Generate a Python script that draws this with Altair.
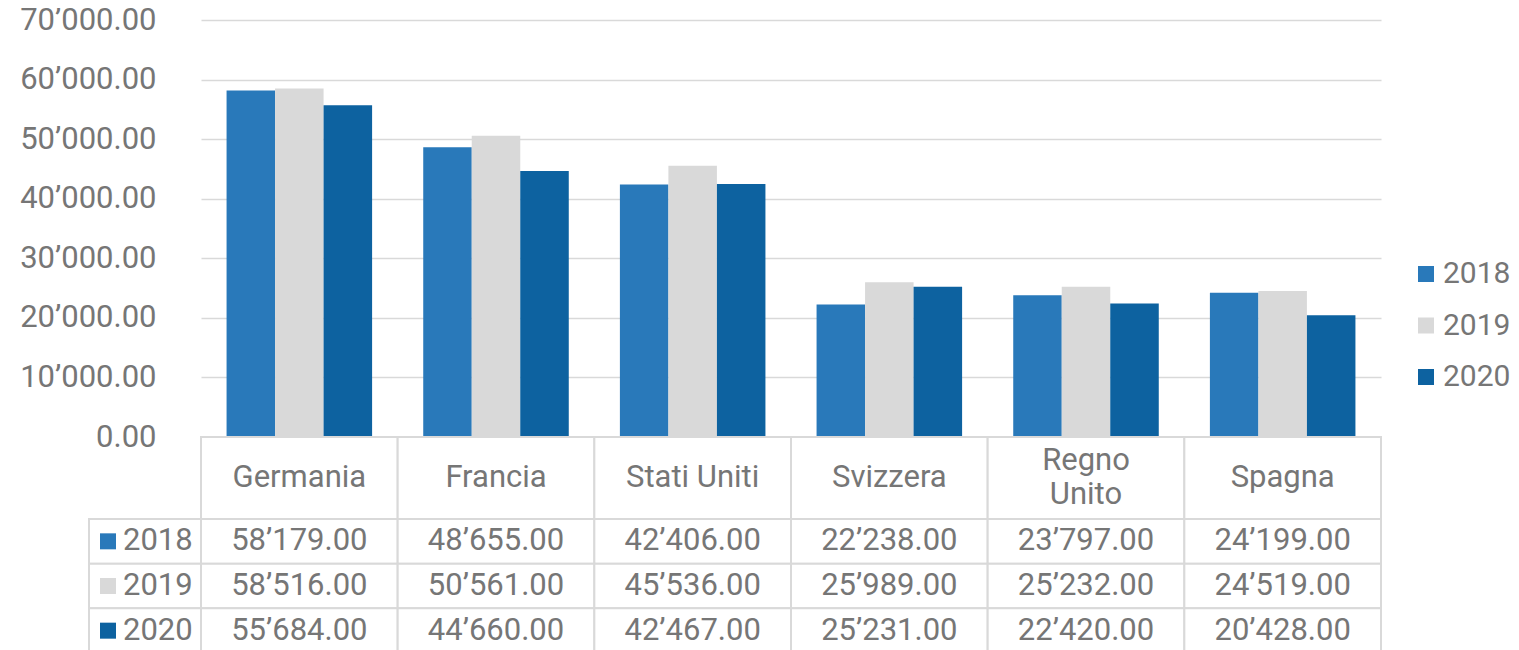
import altair as alt
import pandas as pd

categories = ["Germania", "Francia", "Stati Uniti", "Svizzera", "Regno Unito", "Spagna"]
header_labels = ["Germania", "Francia", "Stati Uniti", "Svizzera", "Regno\nUnito", "Spagna"]
years = ["2018", "2019", "2020"]
v2018 = [58179, 48655, 42406, 22238, 23797, 24199]
v2019 = [58516, 50561, 45536, 25989, 25232, 24519]
v2020 = [55684, 44660, 42467, 25231, 22420, 20428]
y_ticks = [0, 10000, 20000, 30000, 40000, 50000, 60000, 70000]
colors = ["#2979BA", "#D9D9D9", "#0D62A0"]

rows = []
for yr_, vals in zip(years, [v2018, v2019, v2020]):
    for c, v in zip(categories, vals):
        rows.append({"paese": c, "anno": yr_, "valore": v})
df = pd.DataFrame(rows)
hdr = pd.DataFrame({"paese": categories, "etichetta": header_labels})
yrs = pd.DataFrame({"anno": years})

FONT = "Roboto"
TXT = "#767676"
GRID = "#D9D9D9"
FS = 31
W = 1180
H_HDR = 82
LINE_H = 34

color_scale = alt.Scale(domain=years, range=colors)

bars = alt.Chart(df).mark_bar().encode(
    x=alt.X("paese:N", sort=categories, axis=None,
            scale=alt.Scale(paddingInner=0.26, paddingOuter=0.13)),
    xOffset=alt.XOffset("anno:N", sort=years),
    y=alt.Y("valore:Q", scale=alt.Scale(domain=[0, 70000]),
            axis=alt.Axis(values=y_ticks, format=",.2f", title=None, domain=False,
                          ticks=False, labelPadding=45, labelFontSize=FS,
                          labelColor=TXT, labelFont=FONT, gridColor=GRID,
                          gridWidth=1.5)),
    color=alt.Color("anno:N", scale=color_scale,
                    legend=alt.Legend(title=None, orient="none", legendX=1210,
                                      legendY=239, symbolType="square",
                                      symbolSize=256, symbolStrokeWidth=0,
                                      labelFontSize=30, labelFont=FONT,
                                      labelColor=TXT, rowPadding=21.5,
                                      labelOffset=2, padding=0)),
).properties(width=W, height=417)

X_tab = alt.X("paese:N", sort=categories, axis=None,
              scale=alt.Scale(paddingInner=0, paddingOuter=0))

h_cells = alt.Chart(hdr).mark_rect(fill="white", stroke=GRID, strokeWidth=2).encode(
    x=X_tab, y=alt.value(0), y2=alt.value(H_HDR))
h_text = alt.Chart(hdr).transform_calculate(
    ypos=f"{H_HDR / 2} - (length(split(datum.etichetta, '\\n')) - 1) * {LINE_H / 2}"
).mark_text(fontSize=FS, font=FONT, color=TXT, lineBreak="\n", lineHeight=LINE_H).encode(
    x=X_tab, y=alt.Y("ypos:Q", scale=None), text="etichetta:N")
header_chart = alt.layer(h_cells, h_text).properties(width=W, height=H_HDR)

Y_tab = alt.Y("anno:N", sort=years, axis=None,
              scale=alt.Scale(paddingInner=0, paddingOuter=0))

v_cells = alt.Chart(df).mark_rect(fill="white", stroke=GRID, strokeWidth=2).encode(
    x=X_tab, y=Y_tab)
v_text = alt.Chart(df).mark_text(fontSize=FS, font=FONT, color=TXT).encode(
    x=X_tab, y=Y_tab, text=alt.Text("valore:Q", format=",.2f"))
l_cells = alt.Chart(yrs).mark_rect(fill="white", stroke=GRID, strokeWidth=2).encode(
    x=alt.value(-112), x2=alt.value(0), y=Y_tab)
l_keys = alt.Chart(yrs).mark_square(size=256, opacity=1).encode(
    x=alt.value(-93), y=Y_tab,
    color=alt.Color("anno:N", scale=color_scale, legend=None))
l_text = alt.Chart(yrs).mark_text(fontSize=FS, font=FONT, color=TXT, align="left").encode(
    x=alt.value(-78), y=Y_tab, text="anno:N")
values_chart = alt.layer(v_cells, v_text, l_cells, l_keys, l_text).properties(
    width=W, height=134)

chart = alt.vconcat(bars, header_chart, values_chart, spacing=0, bounds="flush",
                    padding={"left": 11, "top": -4, "right": 0, "bottom": 0}).resolve_scale(
    x="independent", y="independent").resolve_legend(color="independent").configure(
    locale={"number": {"decimal": ".", "thousands": "\u2019", "grouping": [3],
                       "currency": ["", ""]}},
    view=alt.ViewConfig(strokeWidth=0))

chart.save("out.html", embed_options={"renderer": "svg", "actions": False})
